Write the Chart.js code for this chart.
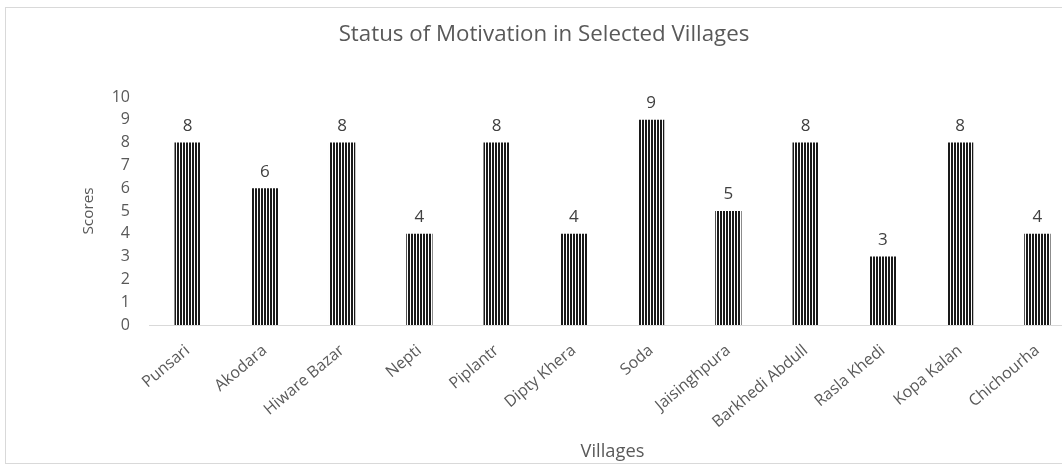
<!DOCTYPE html>
<html>
<head>
<meta charset="utf-8">
<script src="https://cdn.jsdelivr.net/npm/chart.js@4.4.0/dist/chart.umd.min.js"></script>
<style>
  html, body { margin: 0; padding: 0; background: #fff; overflow: hidden; }
  body { width: 1062px; height: 465px; position: relative; }
  #frame { position: absolute; left: 5px; top: 7px; width: 1076px; height: 455px; border: 1px solid #d9d9d9; }
  #chart { display: block; }
</style>
</head>
<body>
<div id="frame"><canvas id="chart" width="1076" height="455"></canvas></div>
<script>
// data
const villages = ['Punsari', 'Akodara', 'Hiware Bazar', 'Nepti', 'Piplantr', 'Dipty Khera',
    'Soda', 'Jaisinghpura', 'Barkhedi Abdull', 'Rasla Khedi', 'Kopa Kalan', 'Chichourha'];
const scores = [8, 6, 8, 4, 8, 4, 9, 5, 8, 3, 8, 4];
const yTicks = [0, 1, 2, 3, 4, 5, 6, 7, 8, 9, 10];

const chartTitle = 'Status of Motivation in Selected Villages';
const xTitle = 'Villages';
const yTitle = 'Scores';

const FONT = '"Open Sans", sans-serif';
const GREY = '#595959';

// vertical stripe fill for the bars
function stripes() {
    const c = document.createElement('canvas');
    c.width = 3;
    c.height = 4;
    const g = c.getContext('2d');
    g.fillStyle = '#ffffff';
    g.fillRect(0, 0, 3, 4);
    g.fillStyle = '#1a1a1a';
    g.fillRect(0, 0, 2, 4);
    return g.createPattern(c, 'repeat');
}

// pick a font size so the text spans roughly the given width
function fitFont(ctx, text, width) {
    ctx.font = '20px ' + FONT;
    const size = 20 * width / ctx.measureText(text).width;
    ctx.font = size.toFixed(1) + 'px ' + FONT;
}

// value labels above bars + titles
const textPlugin = {
    id: 'texts',
    afterDatasetsDraw(chart) {
        const ctx = chart.ctx;
        const area = chart.chartArea;
        const meta = chart.getDatasetMeta(0);
        ctx.save();
        ctx.fillStyle = '#404040';
        ctx.font = '17px ' + FONT;
        ctx.textAlign = 'center';
        ctx.textBaseline = 'bottom';
        meta.data.forEach((bar, i) => {
            ctx.fillText(scores[i], bar.x, bar.y - 8);
        });

        ctx.fillStyle = GREY;
        ctx.textBaseline = 'middle';
        fitFont(ctx, chartTitle, 410);
        ctx.fillText(chartTitle, chart.width / 2, 27);

        fitFont(ctx, xTitle, 64);
        ctx.fillText(xTitle, (area.left + area.right) / 2, 444);

        fitFont(ctx, yTitle, 47);
        ctx.translate(83, (area.top + area.bottom) / 2);
        ctx.rotate(-Math.PI / 2);
        ctx.fillText(yTitle, 0, 0);
        ctx.restore();
    }
};

new Chart(document.getElementById('chart'), {
    type: 'bar',
    data: {
        labels: villages,
        datasets: [{
            label: 'Scores',
            data: scores,
            backgroundColor: stripes(),
            borderWidth: 0,
            categoryPercentage: 1,
            barPercentage: 0.34
        }]
    },
    options: {
        responsive: false,
        animation: false,
        layout: {
            padding: { top: 89, right: 6, left: 0, bottom: 0 }
        },
        plugins: {
            legend: { display: false },
            title: { display: false },
            tooltip: { enabled: false }
        },
        scales: {
            x: {
                grid: { display: false, drawTicks: false },
                border: { color: '#d9d9d9', width: 1 },
                ticks: {
                    color: GREY,
                    font: { family: FONT, size: 16 },
                    minRotation: 40,
                    maxRotation: 40,
                    padding: 16
                },
                afterFit(scale) { scale.height = 138; }
            },
            y: {
                min: 0,
                max: 10,
                afterBuildTicks(scale) {
                    scale.ticks = yTicks.map(v => ({ value: v }));
                },
                grid: { display: false, drawTicks: false },
                border: { display: false },
                ticks: {
                    color: GREY,
                    font: { family: FONT, size: 16 },
                    padding: 19
                },
                afterFit(scale) { scale.width = 143; }
            }
        }
    },
    plugins: [textPlugin]
});
</script>
</body>
</html>
